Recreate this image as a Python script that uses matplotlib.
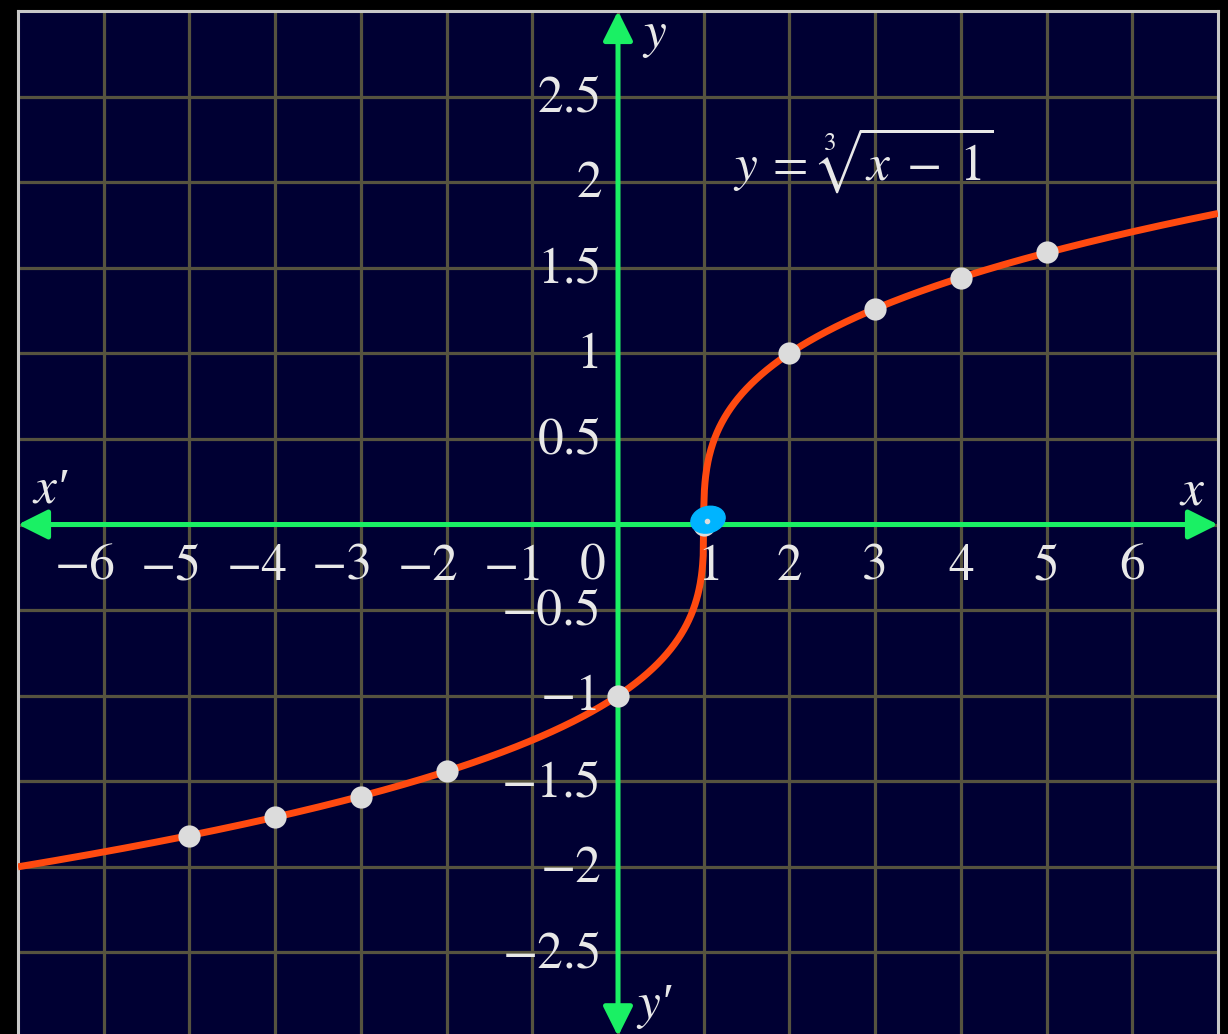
import numpy as np
import matplotlib.pyplot as plt
from matplotlib.patches import Ellipse

# graph of y = cbrt(x - 1) with marked points
point_x = [-5, -4, -3, -2, 0, 1, 2, 3, 4, 5]
point_y = [-1.82, -1.71, -1.59, -1.44, -1.0, 0.0, 1.0, 1.26, 1.44, 1.59]
x_ticks = [-6, -5, -4, -3, -2, -1, 0, 1, 2, 3, 4, 5, 6]
y_ticks = [-2.5, -2, -1.5, -1, -0.5, 0.5, 1, 1.5, 2, 2.5]
y_tick_labels = ['\u22122.5', '\u22122', '\u22121.5', '\u22121', '\u22120.5',
                 '0.5', '1', '1.5', '2', '2.5']

bg = '#000033'
green = '#1af064'
curve_col = '#ff4a10'
grid_col = '#56533f'

plt.rcParams['mathtext.fontset'] = 'stix'
serif = ['STIXGeneral', 'Liberation Serif', 'DejaVu Serif']

fig = plt.figure(figsize=(12.28, 10.34), dpi=100, facecolor='black')
ax = fig.add_axes([18/1228, -4/1034, 1200/1228, 1027/1034])
ax.set_facecolor(bg)
ax.set_xlim(-7, 7)
ax.set_ylim(-3, 3)

ax.set_xticks(x_ticks)
ax.set_yticks(np.arange(-2.5, 2.51, 0.5))
ax.tick_params(length=0, labelbottom=False, labelleft=False)
ax.grid(True, color=grid_col, lw=2.3)
for s in ['left', 'top', 'right', 'bottom']:
    ax.spines[s].set_color('#c8c8c8')
    ax.spines[s].set_linewidth(2.2)

# axes with arrows
ax.annotate('', xy=(7, 0), xytext=(-7, 0),
            arrowprops=dict(arrowstyle='<|-|>', color=green, lw=3.6,
                            mutation_scale=45, shrinkA=0, shrinkB=0), zorder=3)
ax.annotate('', xy=(0, 3), xytext=(0, -2.99),
            arrowprops=dict(arrowstyle='<|-|>', color=green, lw=3.6,
                            mutation_scale=45, shrinkA=0, shrinkB=0), zorder=3)

# curve
xs = np.linspace(-7, 7, 2001)
ax.plot(xs, np.cbrt(xs - 1), color=curve_col, lw=5, zorder=4, solid_capstyle='butt')
ax.plot(point_x, point_y, 'o', color='#dcdcdc', ms=16, mec='none', zorder=5)

# highlight blob at (1, 0)
ax.add_patch(Ellipse((1.05, 0.028), 0.4, 0.155, angle=4, color='#00b4ff', zorder=6))
ax.plot([1.04], [0.02], 'o', color='#dddddd', ms=3, zorder=7)

fs = 37
txt = dict(color='#e8e8e8', fontsize=fs, family=serif, zorder=8)
for v in x_ticks:
    if v < 0:
        ax.text(v + 0.14, -0.25, '\u2212%d' % abs(v), ha='right', va='center', **txt)
    elif v == 0:
        ax.text(-0.15, -0.25, '0', ha='right', va='center', **txt)
    elif v == 1:
        ax.text(1.22, -0.25, '1', ha='right', va='center', **txt)
    else:
        ax.text(v, -0.25, str(v), ha='center', va='center', **txt)
for v, lab in zip(y_ticks, y_tick_labels):
    ax.text(-0.19, v - 0.015, lab, ha='right', va='center', **txt)

# axis names and formula
ax.text(0.43, 2.86, 'y', ha='center', va='center', style='italic', **txt)
ax.text(6.69, 0.19, 'x', ha='center', va='center', style='italic', **txt)
ax.text(-6.62, 0.2, 'x\u2032', ha='center', va='center', style='italic', **txt)
ax.text(0.42, -2.81, 'y\u2032', ha='center', va='center', style='italic', **txt)
ax.text(2.86, 2.13, r'$y\:=\:\sqrt[3]{x\;-\;1}$', ha='center', va='center', **txt)

fig.savefig('out.png', dpi=100, facecolor='black')
